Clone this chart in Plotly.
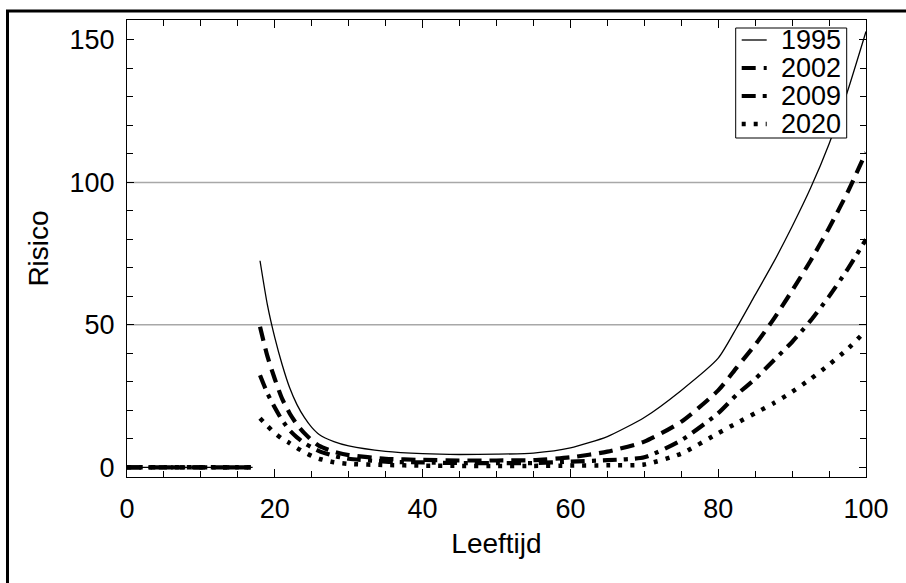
import plotly.graph_objects as go

# ---- data ----
child_ages = [0, 1, 2, 3, 4, 5, 6, 7, 8, 9, 10, 11, 12, 13, 14, 15, 16, 17]
child_risk = [0, 0, 0, 0, 0, 0, 0, 0, 0, 0, 0, 0, 0, 0, 0, 0, 0, 0]

ages = [18, 19, 20, 21, 22, 23, 24, 25, 26, 28, 30, 35, 40, 45, 50, 55,
        60, 65, 70, 75, 80, 82.5, 85, 87.5, 90, 92.5, 95, 97.5, 100]

risk_1995 = [72.5, 57, 45.5, 36, 28, 22, 17.5, 14, 11.5, 9, 7.5, 5.6, 4.8, 4.5, 4.6, 5.0,
             6.8, 10.8, 17.5, 27, 38.3, 49, 60.5, 72, 84.5, 98, 113.5, 132, 153]
risk_2002 = [49.3, 39, 31, 24, 19, 15, 12, 9.5, 7.5, 5.5, 4.3, 3.0, 2.6, 2.4, 2.4, 2.5,
             3.5, 5.5, 9, 16, 27, 35, 43, 52, 62, 72.5, 84, 96.5, 110.5]
risk_2009 = [32.3, 26, 21, 16.5, 13, 10.5, 8.5, 7, 5.7, 4.0, 3.0, 2.0, 1.7, 1.5, 1.5, 1.5,
             2.0, 2.5, 3.5, 9.5, 19, 25.5, 31, 37.5, 44, 51.5, 60, 69.5, 80]
risk_2020 = [17.2, 14.5, 12, 10, 8.5, 6.8, 5.3, 4.0, 3.0, 1.8, 1.2, 0.8, 0.6, 0.5, 0.5, 0.5,
             0.6, 0.7, 1.0, 4.8, 12, 15.5, 19, 22.5, 26.5, 31, 36, 41.5, 48]

series_names = ["1995", "2002", "2009", "2020"]
series_values = [risk_1995, risk_2002, risk_2009, risk_2020]
gridline_values = [50, 100]

x_tickvals = [0, 20, 40, 60, 80, 100]
y_tickvals = [0, 50, 100, 150]

# ---- styles ----
styles = [
    dict(width=1.3, dash="solid"),
    dict(width=4.2, dash="14px,8px"),
    dict(width=4.2, dash="14px,7px,4px,7px"),
    dict(width=4.5, dash="4px,8px"),
]

FONT = "Liberation Sans, Arial, sans-serif"
FS = 27

# plot area in pixels (used to place the hand-made legend box)
L, R, T, B = 127, 866, 20, 477


def px_x(p):
    return (p - L) / (R - L)


def px_y(p):
    return (B - p) / (B - T)


fig = go.Figure()
for name, vals, st in zip(series_names, series_values, styles):
    xs = child_ages + [None] + ages
    ys = child_risk + [None] + vals
    fig.add_trace(go.Scatter(
        x=xs, y=ys, mode="lines", name=name, showlegend=False,
        line=dict(color="black", width=st["width"], dash=st["dash"],
                  shape="spline", smoothing=0.6),
        connectgaps=False,
    ))

for g in gridline_values:
    fig.add_shape(type="line", xref="paper", yref="y", x0=0, x1=1, y0=g, y1=g,
                  line=dict(color="#a8a8a8", width=1.5), layer="below")

# outer frame
fig.add_shape(type="rect", xref="paper", yref="paper",
              x0=px_x(7.5), x1=1.3, y0=-0.5, y1=px_y(11),
              line=dict(color="black", width=3), fillcolor="rgba(0,0,0,0)")

# legend box
fig.add_shape(type="rect", xref="paper", yref="paper",
              x0=px_x(735.7), x1=px_x(846.7), y0=px_y(138), y1=px_y(28),
              line=dict(color="black", width=1), fillcolor="white", layer="above")
row_y = [40, 68, 96, 124]
for name, st, ry in zip(series_names, styles, row_y):
    fig.add_shape(type="line", xref="paper", yref="paper",
                  x0=px_x(741.7), x1=px_x(766.7), y0=px_y(ry), y1=px_y(ry),
                  line=dict(color="black", width=st["width"], dash=st["dash"]),
                  layer="above")
    fig.add_annotation(xref="paper", yref="paper", x=px_x(779), y=px_y(ry),
                       xanchor="left", yanchor="middle", showarrow=False,
                       text=name, font=dict(family=FONT, size=FS, color="black"))

fig.update_layout(
    width=906, height=583,
    margin=dict(l=L, r=906 - R, t=T, b=583 - B),
    paper_bgcolor="white", plot_bgcolor="white",
    font=dict(family=FONT, size=FS, color="black"),
    showlegend=False,
    xaxis=dict(
        range=[0, 100], tickvals=x_tickvals, ticks="inside", ticklen=8,
        tickcolor="black", tickwidth=1, showline=True, linecolor="black",
        linewidth=1.2, mirror="allticks", showgrid=False, zeroline=False,
        minor=dict(dtick=5, ticks="inside", ticklen=6, tickcolor="black"),
        ticklabelstandoff=7,
        title=dict(text="Leeftijd", font=dict(family=FONT, size=FS + 1), standoff=10),
        tickfont=dict(family=FONT, size=FS),
    ),
    yaxis=dict(
        range=[-3.4, 157], tickvals=y_tickvals, ticks="inside", ticklen=7,
        tickcolor="black", tickwidth=1, showline=True, linecolor="black",
        linewidth=1.2, mirror="allticks", showgrid=False, zeroline=False,
        minor=dict(dtick=10, ticks="inside", ticklen=6, tickcolor="black"),
        ticklabelstandoff=6,
        title=dict(text="Risico", font=dict(family=FONT, size=FS + 1), standoff=12),
        tickfont=dict(family=FONT, size=FS),
    ),
)

fig.write_html("out.html")
